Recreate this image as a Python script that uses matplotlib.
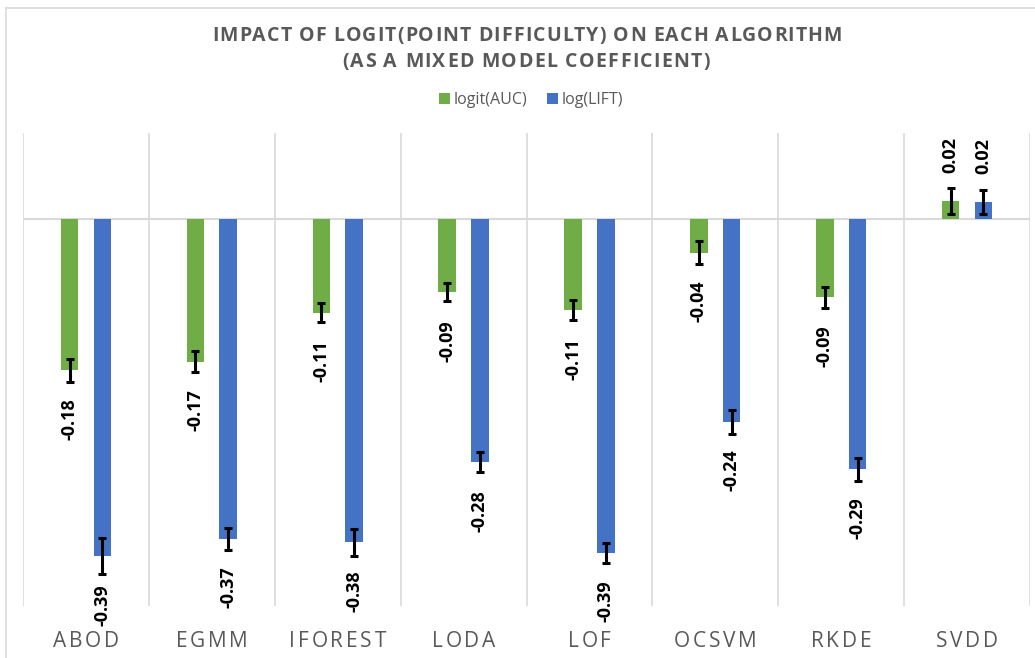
import matplotlib
matplotlib.use("Agg")
import matplotlib.pyplot as plt
from matplotlib.lines import Line2D
from matplotlib.patches import Patch
from matplotlib.font_manager import FontProperties
import numpy as np

plt.rcParams['font.family'] = ['Open Sans', 'DejaVu Sans']

categories = ["ABOD", "EGMM", "IFOREST", "LODA", "LOF", "OCSVM", "RKDE", "SVDD"]
auc_vals = [-0.176, -0.166, -0.109, -0.085, -0.106, -0.039, -0.091, 0.021]
lift_vals = [-0.392, -0.372, -0.376, -0.283, -0.388, -0.236, -0.291, 0.020]
auc_err = [0.013, 0.012, 0.011, 0.0105, 0.0116, 0.013, 0.012, 0.015]
lift_err = [0.021, 0.013, 0.016, 0.0116, 0.0116, 0.0136, 0.0136, 0.014]
series_names = ["logit(AUC)", "log(LIFT)"]
title_lines = ["IMPACT OF LOGIT(POINT DIFFICULTY) ON EACH ALGORITHM",
               "(AS A MIXED MODEL COEFFICIENT)"]

GREEN = "#70AD47"
BLUE = "#4472C4"
GRID = "#D9D9D9"
TXT = "#595959"

W, H = 1035, 658
fig = plt.figure(figsize=(W / 100, H / 100), dpi=100)
fig.patch.set_facecolor("white")
renderer = fig.canvas.get_renderer()


def spaced_text(s, cx_px, baseline_px, fontsize, weight='normal', color=TXT,
                spacing_px=None, target_px=None):
    prop = FontProperties(family=['Open Sans', 'DejaVu Sans'], size=fontsize, weight=weight)
    widths = []
    for ch in s:
        w, h, d = renderer.get_text_width_height_descent(ch, prop, ismath=False)
        widths.append(w)
    if target_px is not None:
        spacing_px = (target_px - sum(widths)) / (len(s) - 1)
    total = sum(widths) + spacing_px * (len(s) - 1)
    xpos = cx_px - total / 2
    for ch, w in zip(s, widths):
        if ch != ' ':
            fig.text(xpos / W, 1 - baseline_px / H, ch, fontproperties=prop, color=color,
                     ha='left', va='baseline')
        xpos += w + spacing_px


left, right, top, bottom = 23, 1030, 133, 606
ax = fig.add_axes([left / W, 1 - bottom / H, (right - left) / W, (bottom - top) / H])

x = np.arange(len(categories))
bw = 0.139
off = 0.13

for vals, errs, color, sign in [(auc_vals, auc_err, GREEN, -1), (lift_vals, lift_err, BLUE, 1)]:
    pos = x + sign * off
    ax.bar(pos, vals, width=bw, color=color, zorder=3)
    ax.errorbar(pos, vals, yerr=errs, fmt='none', ecolor='black',
                elinewidth=2.2, capsize=3, capthick=2.2, zorder=4)
    for xi, v in zip(pos, vals):
        if v < 0:
            ax.annotate(f"{v:.2f}", (xi, v), xytext=(0, -20), textcoords='offset points',
                        rotation=90, ha='center', va='top', fontsize=13,
                        fontweight='bold', color='black', zorder=5)
        else:
            ax.annotate(f"{v:.2f}", (xi, v), xytext=(0, 20), textcoords='offset points',
                        rotation=90, ha='center', va='bottom', fontsize=13,
                        fontweight='bold', color='black', zorder=5)

ax.set_xlim(-0.5, len(categories) - 0.5)
ax.set_ylim(-0.45, 0.1)
for b in np.arange(-0.5, len(categories), 1.0):
    ax.axvline(b, color=GRID, lw=1.2, zorder=1)
ax.axhline(0, color=GRID, lw=1.5, zorder=2)

for s in ax.spines.values():
    s.set_visible(False)
ax.set_yticks([])
ax.set_xticks(x)
ax.set_xticklabels([])
ax.tick_params(axis='x', length=0)

# category labels (letter-spaced)
cat_w = (right - left) / len(categories)
for i, c in enumerate(categories):
    spaced_text(c, left + cat_w * (i + 0.5), 647, 15, spacing_px=2.8)

# title (letter-spaced)
spaced_text(title_lines[0], 527, 41, 14, weight='bold', target_px=630)
spaced_text(title_lines[1], 526, 67, 14, weight='bold', target_px=368)

handles = [Patch(facecolor=GREEN), Patch(facecolor=BLUE)]
fig.legend(handles, series_names, loc='center', bbox_to_anchor=(531 / W, 1 - 100 / H),
           ncol=2, frameon=False, fontsize=11.5, labelcolor=TXT,
           handlelength=0.7, handleheight=0.7, handletextpad=0.25, columnspacing=1.2)

# chart border
fig.add_artist(Line2D([6 / W, 6 / W], [0, 1 - 8 / H], color=GRID, lw=1.2))
fig.add_artist(Line2D([6 / W, 1], [1 - 8 / H, 1 - 8 / H], color=GRID, lw=1.2))

fig.savefig("out.png", dpi=100)
